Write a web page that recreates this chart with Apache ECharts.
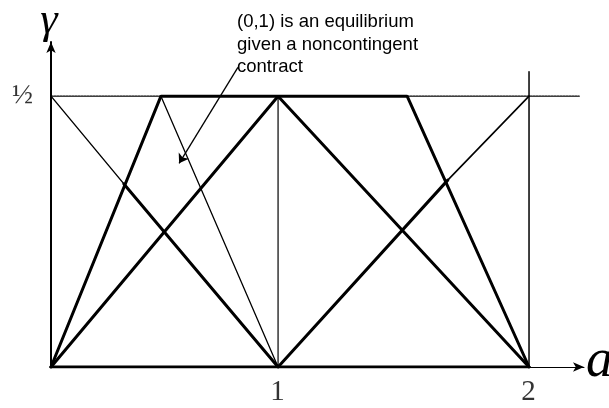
<!DOCTYPE html>
<html>
<head>
<meta charset="utf-8">
<script src="https://cdn.jsdelivr.net/npm/echarts@6/dist/echarts.min.js"></script>
<style>
  html, body { margin: 0; padding: 0; background: #fff; }
  #chart { width: 609px; height: 408px; }
</style>
</head>
<body>
<div id="chart"></div>
<script>
// points are [a, gamma]
var trapezoid = [[0, 0], [0.46, 0.5], [1.49, 0.5], [2, 0]];
var triangle = [[0, 0], [0.95, 0.5], [2, 0]];
var leftThick = [[0.305, 0.338], [0.95, 0]];
var rightThick = [[0.95, 0], [1.66, 0.345]];
var baseLine = [[0, 0], [2, 0]];

var leftThin = [[0, 0.5], [0.305, 0.338]];
var rightThin = [[1.66, 0.345], [2, 0.5]];
var slopeThin = [[0.46, 0.5], [0.95, 0]];
var midVertical = [[0.95, 0], [0.95, 0.5]];
var endVertical = [[2, 0], [2, 0.545]];
var halfLeft = [[0, 0.5], [0.46, 0.5]];
var halfRight = [[1.49, 0.5], [2.21, 0.5]];

var arrowLine = [[0.782, 0.553], [0.536, 0.376]];

var tickA = [0.95, 2];
var tickText = ['1', '2'];
var halfTick = [0, 0.5];
var halfText = '\u00BD';

var note = ['(0,1) is an equilibrium', 'given a noncontingent', 'contract'];

var myChart = echarts.init(document.getElementById('chart'));

function seg(name, data, width, type) {
    return {
        name: name,
        type: 'line',
        data: data,
        showSymbol: false,
        symbol: 'none',
        animation: false,
        silent: true,
        lineStyle: { color: '#000', width: width, type: type || 'solid', cap: 'round' }
    };
}

var tickData = tickA.map(function (a, i) {
    return { value: [a, 0], label: { formatter: tickText[i] } };
});

option = {
    animation: false,
    grid: { left: 51, right: 25, top: 42, bottom: 41 },
    xAxis: {
        type: 'value',
        min: 0,
        max: 2.23,
        axisLine: {
            show: true,
            symbol: ['none', 'arrow'],
            symbolSize: [7, 11],
            lineStyle: { color: '#000', width: 1 }
        },
        axisTick: { show: false },
        axisLabel: { show: false },
        splitLine: { show: false }
    },
    yAxis: {
        type: 'value',
        min: 0,
        max: 0.6,
        axisLine: {
            show: true,
            symbol: ['none', 'arrow'],
            symbolSize: [7, 11],
            lineStyle: { color: '#000', width: 2 }
        },
        axisTick: { show: false },
        axisLabel: { show: false },
        splitLine: { show: false }
    },
    series: [
        seg('halfLeft', halfLeft, 1.3, [2, 1]),
        seg('halfRight', halfRight, 1.3, [2, 1]),
        seg('midVertical', midVertical, 1.2),
        seg('endVertical', endVertical, 1.5),
        seg('leftThin', leftThin, 1.4),
        seg('rightThin', rightThin, 1.6),
        seg('slopeThin', slopeThin, 1.3),
        seg('trapezoid', trapezoid, 3),
        seg('triangle', triangle, 3),
        seg('leftThick', leftThick, 3),
        seg('rightThick', rightThick, 3),
        seg('baseLine', baseLine, 3),
        {
            type: 'lines',
            coordinateSystem: 'cartesian2d',
            silent: true,
            symbol: ['none', 'arrow'],
            symbolSize: 9,
            lineStyle: { color: '#000', width: 1.3, opacity: 1 },
            data: [{ coords: arrowLine }]
        },
        {
            type: 'scatter',
            silent: true,
            symbolSize: 1,
            itemStyle: { color: 'rgba(0,0,0,0)' },
            label: {
                show: true,
                position: [0, 0],
                offset: [0, 26],
                align: 'center',
                verticalAlign: 'middle',
                fontFamily: 'Liberation Serif',
                fontSize: 29,
                color: '#000'
            },
            data: tickData
        },
        {
            type: 'scatter',
            silent: true,
            symbolSize: 1,
            itemStyle: { color: 'rgba(0,0,0,0)' },
            label: {
                show: true,
                formatter: halfText,
                position: [0, 0],
                offset: [-28, 0],
                align: 'center',
                verticalAlign: 'middle',
                fontFamily: 'Liberation Serif',
                fontSize: 28,
                color: '#000'
            },
            data: [halfTick]
        }
    ],
    graphic: [
        {
            type: 'text',
            x: 49,
            y: 21,
            style: {
                text: '\u03B3',
                fontFamily: 'Liberation Serif',
                fontStyle: 'italic',
                fontSize: 44,
                align: 'center',
                verticalAlign: 'middle',
                fill: '#000'
            }
        },
        {
            type: 'text',
            x: 586,
            y: 362,
            style: {
                text: 'a',
                fontFamily: 'Liberation Serif',
                fontStyle: 'italic',
                fontSize: 54,
                align: 'left',
                verticalAlign: 'middle',
                fill: '#000'
            }
        },
        {
            type: 'text',
            x: 237,
            y: 11,
            style: {
                text: note.join('\n'),
                fontFamily: 'Liberation Sans',
                fontSize: 18.5,
                lineHeight: 22.5,
                fill: '#000'
            }
        }
    ]
};

myChart.setOption(option);
</script>
</body>
</html>
